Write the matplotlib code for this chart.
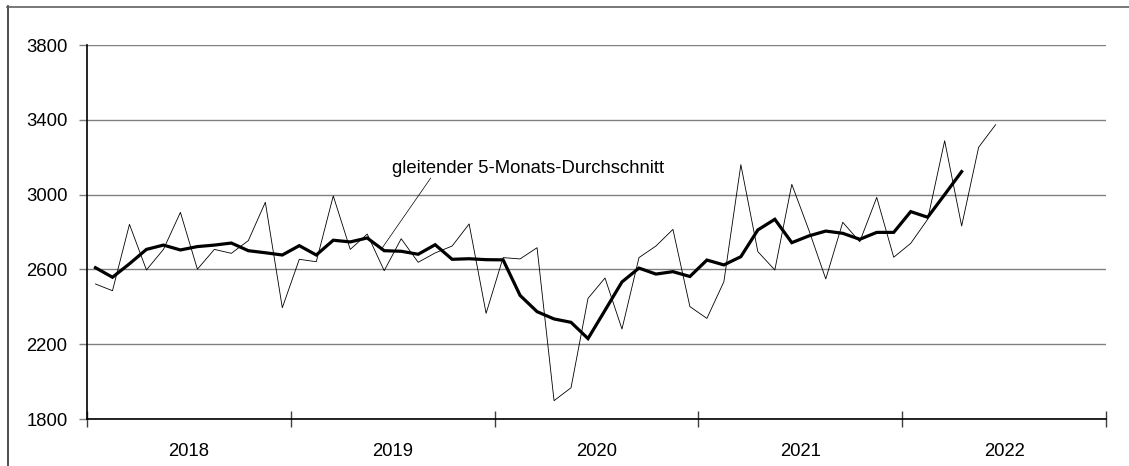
import matplotlib
matplotlib.use("Agg")
import matplotlib.pyplot as plt
from matplotlib.lines import Line2D

plt.rcParams['font.family'] = ['Liberation Sans', 'DejaVu Sans']

years = ['2018', '2019', '2020', '2021', '2022']
monthly = [2522, 2486, 2841, 2597, 2707, 2905, 2601, 2707, 2686, 2754, 2959, 2395,
           2654, 2641, 2993, 2707, 2789, 2593, 2764, 2638, 2688, 2725, 2843, 2365,
           2663, 2656, 2716, 1898, 1967, 2445, 2554, 2281, 2663, 2725, 2814, 2401,
           2338, 2534, 3160, 2695, 2597, 3055, 2811, 2549, 2852, 2748, 2985, 2665,
           2739, 2868, 3288, 2832, 3253, 3374]
moving_avg = [2609, 2558, 2630, 2707, 2730, 2704, 2722, 2730, 2741, 2700, 2689, 2677,
              2727, 2677, 2756, 2747, 2768, 2700, 2697, 2681, 2732, 2654, 2657, 2652,
              2651, 2461, 2374, 2335, 2317, 2230, 2381, 2533, 2607, 2575, 2588, 2562,
              2650, 2624, 2668, 2811, 2868, 2743, 2779, 2805, 2793, 2761, 2798, 2798,
              2909, 2879, 3000, 3123]
yticks = [1800, 2200, 2600, 3000, 3400, 3800]
label_text = 'gleitender 5-Monats-Durchschnitt'

fig = plt.figure(figsize=(11.29, 4.66), dpi=100)
ax = fig.add_axes([87/1129, 1 - 419/466, (1106 - 87)/1129, (419 - 45)/466])

xm = [i + 0.5 for i in range(len(monthly))]
xa = [i + 0.5 for i in range(len(moving_avg))]
ax.plot(xm, monthly, color='black', lw=0.6, zorder=3)
ax.plot(xa, moving_avg, color='black', lw=2.3, zorder=4, solid_joinstyle='miter')

ax.set_xlim(0, 12 * len(years))
ax.set_ylim(yticks[0], yticks[-1])

ax.set_yticks(yticks)
ax.set_yticklabels([str(v) for v in yticks])
ax.yaxis.grid(True, color='#808080', lw=1.0)
ax.set_axisbelow(True)
ax.tick_params(axis='y', direction='out', length=6, width=1, color='#808080',
               labelsize=13.3, pad=8)

ax.set_xticks([12 * i for i in range(len(years) + 1)])
ax.set_xticklabels([])
ax.set_xticks([12 * i + 6 for i in range(len(years))], minor=True)
ax.set_xticklabels(years, minor=True)
ax.tick_params(axis='x', which='major', direction='inout', length=11, width=1, color='#404040')
ax.tick_params(axis='x', which='minor', length=0, labelsize=13.3, pad=17)

for s in ['top', 'right']:
    ax.spines[s].set_visible(False)
ax.spines['left'].set_color('black')
ax.spines['bottom'].set_color('black')
ax.spines['left'].set_linewidth(1.2)
ax.spines['bottom'].set_linewidth(1.2)

ax.text(17.98, 3142, label_text, fontsize=13.3, ha='left', va='center')
ax.annotate('', xy=(17.3, 2704), xytext=(20.24, 3089),
            arrowprops=dict(arrowstyle='-', lw=0.5, color='black', shrinkA=0, shrinkB=0))

# figure frame (left and top edges visible)
fig.add_artist(Line2D([7.5/1129, 7.5/1129], [0, 1 - 6/466], transform=fig.transFigure,
                      color='#303030', lw=1.2))
fig.add_artist(Line2D([7/1129, 1], [1 - 6.5/466, 1 - 6.5/466], transform=fig.transFigure,
                      color='#606060', lw=1.2))

fig.savefig('out.png', dpi=100)
